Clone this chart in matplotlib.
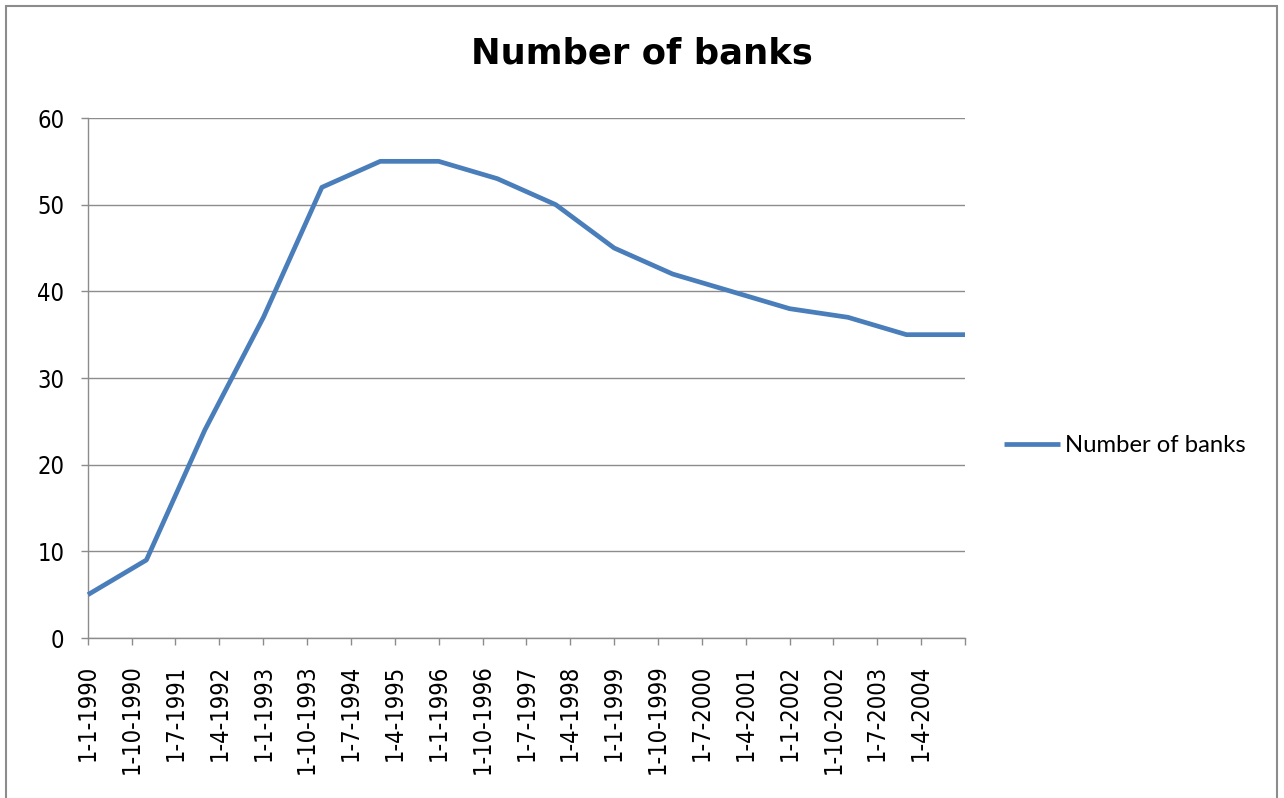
import matplotlib
matplotlib.use("Agg")
import matplotlib.pyplot as plt
import pandas as pd
from matplotlib.patches import Rectangle

# Data
years = list(range(1990, 2006))
banks = [5, 9, 24, 37, 52, 55, 55, 53, 50, 45, 42, 40, 38, 37, 35, 35]
tick_dates = pd.date_range("1990-01-01", "2005-01-01", freq="9MS")
title = "Number of banks"
series_name = "Number of banks"
y_ticks = [0, 10, 20, 30, 40, 50, 60]

W, H = 1284, 798
fig = plt.figure(figsize=(W / 100, H / 100), dpi=100)
ax = fig.add_axes([88 / W, 1 - 638 / H, (965 - 88) / W, (638 - 118) / H])

x = [pd.Timestamp(f"{y}-01-01") for y in years]
ax.plot(x, banks, color="#4a7ebb", lw=3.4, solid_joinstyle="round",
        solid_capstyle="butt", label=series_name, clip_on=False, zorder=3)

ax.set_xlim(pd.Timestamp("1990-01-01"), pd.Timestamp("2005-01-01"))
ax.set_ylim(0, 60)
ax.set_yticks(y_ticks)
ax.yaxis.grid(True, color="#8c8c8c", lw=1.0)
ax.set_axisbelow(True)

labels = []
for d in tick_dates:
    if d <= pd.Timestamp("2004-04-01"):
        labels.append(f"{d.day}-{d.month}-{d.year}")
    else:
        labels.append("")
ax.set_xticks(list(tick_dates))
ax.set_xticklabels(labels, rotation=90, va="top", ha="center")
for lab in ax.get_xticklabels():
    lab.set_family("DejaVu Sans")
    lab.set_fontstretch("condensed")
    lab.set_fontsize(17)
ax.tick_params(axis="x", length=5, width=1, color="#8c8c8c", pad=14)
ax.tick_params(axis="y", length=5, width=1, color="#8c8c8c", pad=12)
for lab in ax.get_yticklabels():
    lab.set_family("DejaVu Sans")
    lab.set_fontstretch("condensed")
    lab.set_fontsize(17)

for s in ["top", "right"]:
    ax.spines[s].set_visible(False)
for s in ["left", "bottom"]:
    ax.spines[s].set_color("#8c8c8c")
    ax.spines[s].set_linewidth(1.0)

fig.text(642 / W, 1 - 63.5 / H, title, ha="center", va="baseline",
         fontsize=25.5, fontweight="bold", family="DejaVu Sans")

leg = fig.legend(handles=ax.get_lines(), labels=[series_name],
                 loc="center left", bbox_to_anchor=(1004 / W, 1 - 446 / H),
                 frameon=False, handlelength=2.35, handletextpad=0.2,
                 borderpad=0, borderaxespad=0,
                 prop={"family": "Lato", "size": 17.2})

fig.patches.append(Rectangle((6 / W, -0.01), (1277 - 6) / W, 1 - 6 / H + 0.01,
                             transform=fig.transFigure, fill=False,
                             edgecolor="#8c8c8c", lw=1.5))

fig.savefig("out.png", dpi=100)
